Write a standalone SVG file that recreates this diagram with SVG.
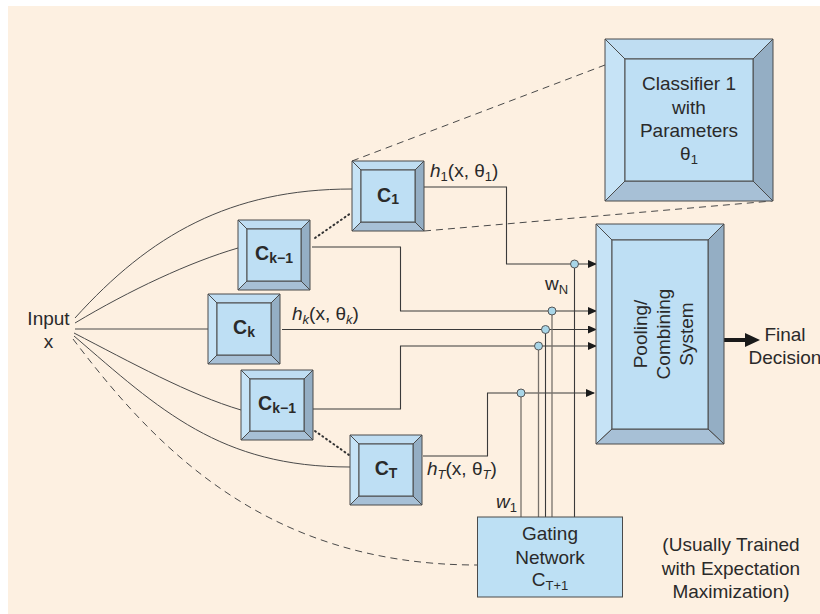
<svg xmlns="http://www.w3.org/2000/svg" xmlns:xlink="http://www.w3.org/1999/xlink" width="820" height="614" viewBox="0 0 820 614">
  <style>
    .lbl { font-family: "Liberation Sans", Arial, sans-serif; font-size: 19px; fill: #2a2a2a; }
    .cls { font-family: "Liberation Sans", Arial, sans-serif; font-size: 19.5px; font-weight: bold; fill: #2a2a2a; }
    .sub { font-size: 13px; }
    .csub { font-size: 14px; }
    .it { font-style: italic; }
    .wire { fill: none; stroke: #3a3a3a; stroke-width: 1.1; }
    .vw { fill: none; stroke: #77716b; stroke-width: 1.3; }
    .feed { fill: none; stroke: #4a4a4a; stroke-width: 1; }
    .dash { fill: none; stroke: #4a4a4a; stroke-width: 1; stroke-dasharray: 7 5; }
    .dot { fill: none; stroke: #333; stroke-width: 2; stroke-dasharray: 1 3.5; stroke-linecap: round; }
    .edge { stroke: #4a4a4a; stroke-width: 1; stroke-linejoin: round; }
    .face { fill: #bedff4; }
    .bt { fill: #bfddf2; }
    .bl { fill: #c6e3f6; }
    .br { fill: #94aec4; }
    .bb { fill: #a7c0d6; }
    .junc { fill: #a9d6e8; stroke: #555; stroke-width: 1; }
  </style>
  <defs>
    <marker id="arr" markerUnits="userSpaceOnUse" markerWidth="9" markerHeight="8" refX="8" refY="4" orient="auto">
      <path d="M0,0 L9,4 L0,8 z" fill="#1a1a1a"/>
    </marker>
    <!-- bevelled block used by the individual classifiers -->
    <g id="block">
      <polygon class="bt edge" points="0,0 72,0 63,9 9,9"/>
      <polygon class="bl edge" points="0,0 9,9 9,61 0,70"/>
      <polygon class="br edge" points="72,0 72,70 63,61 63,9"/>
      <polygon class="bb edge" points="0,70 9,61 63,61 72,70"/>
      <rect class="face edge" x="9" y="9" width="54" height="52"/>
    </g>
  </defs>

  <rect x="8" y="6" width="812" height="608" fill="#fdf0e1"/>

  <!-- connectors -->
  <g id="connectors">
    <!-- input fan-out -->
    <path class="feed" d="M75,318 C150,235 230,189 352,189"/>
    <path class="feed" d="M75,323 C130,290 190,262 238,248"/>
    <path class="feed" d="M75,329 H208"/>
    <path class="feed" d="M74,333 C130,362 190,395 241,410"/>
    <path class="feed" d="M74,336 C160,410 220,467 350,467"/>
    <path class="dash" d="M73,339 C150,440 260,565 477,565"/>

    <!-- zoom-in guide to the detailed classifier -->
    <path class="dash" d="M352,161 L605,65"/>
    <path class="dash" d="M424,231 L772,201"/>

    <!-- elided classifiers -->
    <path class="dot" d="M315,238 L351,213"/>
    <path class="dot" d="M315,431 L349,455"/>

    <!-- classifier outputs to the combiner -->
    <path class="wire" d="M424,187 H506.5 V264 H596" marker-end="url(#arr)"/>
    <path class="wire" d="M312,247 H400.5 V311 H596" marker-end="url(#arr)"/>
    <path class="wire" d="M282,329.5 H596" marker-end="url(#arr)"/>
    <path class="wire" d="M313,409 H400.5 V346 H596" marker-end="url(#arr)"/>
    <path class="wire" d="M423,456 H487.5 V393 H594" marker-end="url(#arr)"/>

    <!-- gating weights -->
    <path class="vw" d="M521,393 V517"/>
    <path class="vw" d="M538.5,346 V517"/>
    <path class="wire" d="M545.5,329.5 V517"/>
    <path class="vw" d="M552,311 V517"/>
    <path class="wire" d="M574.5,264 V517"/>
    <circle class="junc" cx="574.5" cy="264" r="4"/>
    <circle class="junc" cx="552" cy="311" r="4"/>
    <circle class="junc" cx="545.5" cy="329.5" r="4"/>
    <circle class="junc" cx="538.5" cy="346" r="4"/>
    <circle class="junc" cx="521" cy="393" r="4"/>

    <!-- final decision -->
    <line x1="724" y1="340" x2="748" y2="340" stroke="#1a1a1a" stroke-width="4"/>
    <polygon points="745,333 760,340 745,347" fill="#1a1a1a"/>
  </g>

  <!-- input -->
  <g id="input">
    <text class="lbl" x="48.5" y="325" text-anchor="middle">Input</text>
    <text class="lbl" x="48.5" y="348" text-anchor="middle">x</text>
  </g>

  <!-- classifiers -->
  <g id="c1">
    <use xlink:href="#block" x="352" y="161"/>
    <text class="cls" x="388" y="202" text-anchor="middle">C<tspan class="csub" dy="2">1</tspan></text>
  </g>
  <g id="ck-minus-1-upper">
    <use xlink:href="#block" x="238" y="220"/>
    <text class="cls" x="274" y="260" text-anchor="middle">C<tspan class="csub" dy="3">k−1</tspan></text>
  </g>
  <g id="ck">
    <use xlink:href="#block" x="208" y="294"/>
    <text class="cls" x="244" y="334" text-anchor="middle">C<tspan class="csub" dy="3">k</tspan></text>
  </g>
  <g id="ck-minus-1-lower">
    <use xlink:href="#block" x="241" y="370"/>
    <text class="cls" x="277" y="410" text-anchor="middle">C<tspan class="csub" dy="3">k−1</tspan></text>
  </g>
  <g id="ct">
    <use xlink:href="#block" x="350" y="435"/>
    <text class="cls" x="386" y="475" text-anchor="middle">C<tspan class="csub" dy="3">T</tspan></text>
  </g>

  <!-- output labels -->
  <g id="output-labels">
    <text class="lbl" x="430" y="177"><tspan class="it">h</tspan><tspan class="sub" dy="4">1</tspan><tspan dy="-4">(x, θ</tspan><tspan class="sub" dy="4">1</tspan><tspan dy="-4">)</tspan></text>
    <text class="lbl" x="292" y="320"><tspan class="it">h</tspan><tspan class="sub it" dy="4">k</tspan><tspan dy="-4">(x, θ</tspan><tspan class="sub it" dy="4">k</tspan><tspan dy="-4">)</tspan></text>
    <text class="lbl" x="427" y="475"><tspan class="it">h</tspan><tspan class="sub it" dy="4">T</tspan><tspan dy="-4">(x, θ</tspan><tspan class="sub it" dy="4">T</tspan><tspan dy="-4">)</tspan></text>
    <text class="lbl" x="545" y="290">w<tspan class="sub" dy="4">N</tspan></text>
    <text class="lbl" x="496" y="508"><tspan class="it">w</tspan><tspan class="sub" dy="4">1</tspan></text>
  </g>

  <!-- detailed classifier -->
  <g id="classifier-detail">
    <polygon class="bt edge" points="605,39 773,39 753,59 625,59"/>
    <polygon class="bl edge" points="605,39 625,59 625,181 605,201"/>
    <polygon class="br edge" points="773,39 773,201 753,181 753,59"/>
    <polygon class="bb edge" points="605,201 625,181 753,181 773,201"/>
    <rect class="face edge" x="625" y="59" width="128" height="122"/>
    <text class="lbl" x="689" y="90" text-anchor="middle">Classifier 1</text>
    <text class="lbl" x="689" y="113.5" text-anchor="middle">with</text>
    <text class="lbl" x="689" y="137" text-anchor="middle">Parameters</text>
    <text class="lbl" x="689" y="160" text-anchor="middle">θ<tspan class="sub" dy="4">1</tspan></text>
  </g>

  <!-- combiner -->
  <g id="pooling">
    <polygon class="bt edge" points="596,224 724,224 708,240 612,240"/>
    <polygon class="bl edge" points="596,224 612,240 612,429 596,444"/>
    <polygon class="br edge" points="724,224 724,444 708,429 708,240"/>
    <polygon class="bb edge" points="596,444 612,429 708,429 724,444"/>
    <rect class="face edge" x="612" y="240" width="96" height="189"/>
    <g transform="translate(0,334) rotate(-90)">
      <text class="lbl" x="0" y="646.5" text-anchor="middle">Pooling/</text>
      <text class="lbl" x="0" y="670" text-anchor="middle">Combining</text>
      <text class="lbl" x="0" y="693" text-anchor="middle">System</text>
    </g>
  </g>

  <g id="final-decision">
    <text class="lbl" x="785" y="341" text-anchor="middle">Final</text>
    <text class="lbl" x="785" y="364" text-anchor="middle">Decision</text>
  </g>

  <!-- gating network -->
  <g id="gating">
    <rect x="477.5" y="517" width="145" height="80" fill="#bde0f4" stroke="#4a4a4a" stroke-width="1"/>
    <text class="lbl" x="550" y="540" text-anchor="middle">Gating</text>
    <text class="lbl" x="550" y="563.5" text-anchor="middle">Network</text>
    <text class="lbl" x="550" y="586" text-anchor="middle">C<tspan class="sub" dy="4">T+1</tspan></text>
  </g>

  <g id="note">
    <text class="lbl" x="731" y="551" text-anchor="middle">(Usually Trained</text>
    <text class="lbl" x="731" y="574.5" text-anchor="middle">with Expectation</text>
    <text class="lbl" x="731" y="597.5" text-anchor="middle">Maximization)</text>
  </g>
</svg>
